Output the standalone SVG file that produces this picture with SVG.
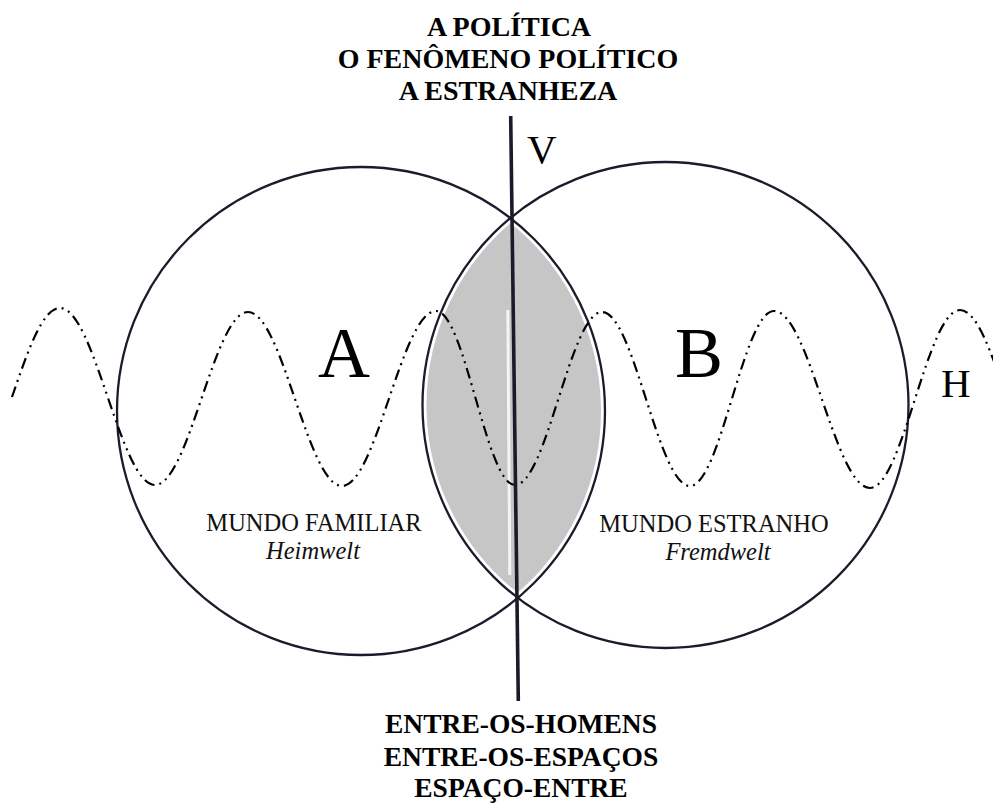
<svg xmlns="http://www.w3.org/2000/svg" width="993" height="805" viewBox="0 0 993 805">
  <defs>
    <style>
      .circ { fill: none; stroke: #1c1b2c; stroke-width: 2.3; }
      .axis { stroke: #1b1a2a; stroke-width: 3.6; stroke-linecap: butt; }
      .wave { fill: none; stroke: #000; stroke-width: 2.2; stroke-dasharray: 11 5 2 5 2 5; }
      .head { font-family: "Liberation Serif", "Times New Roman", serif; font-weight: bold; font-size: 28px; fill: #000; text-anchor: middle; }
      .foot { font-family: "Liberation Serif", "Times New Roman", serif; font-weight: bold; font-size: 27.5px; fill: #000; text-anchor: middle; }
      .big { font-family: "Liberation Serif", "Times New Roman", serif; font-size: 72px; fill: #000; text-anchor: middle; }
      .mid { font-family: "Liberation Serif", "Times New Roman", serif; font-size: 41px; fill: #000; }
      .lab { font-family: "Liberation Serif", "Times New Roman", serif; font-size: 24.5px; fill: #111; text-anchor: middle; }
      .it { font-style: italic; }
    </style>
  </defs>
  <rect width="993" height="805" fill="#ffffff"/>

  <g id="lens">
    <path d="M510.3,218 A243,243 0 0 0 517.8,597.9 A244,244 0 0 0 510.3,218 Z" fill="#c6c6c6"/>
    <path d="M510.3,218 A243,243 0 0 0 517.8,597.9 A244,244 0 0 0 510.3,218 Z" fill="none" stroke="#ffffff" stroke-width="8"/>
    <line x1="507.8" y1="310" x2="509.8" y2="575" stroke="#f4f4f4" stroke-width="3"/>
  </g>

  <g id="circle-a">
    <circle class="circ" cx="361" cy="411" r="244"/>
  </g>
  <g id="circle-b">
    <circle class="circ" cx="665.5" cy="405" r="243"/>
  </g>

  <g id="connectors">
    <path class="wave" d="M12,397 C28,350.3 42.7,308 60,308 C94.5,308 120.5,485 155,485 C188.8,485 214.2,312 248,312 C282.2,312 307.8,486 342,486 C376.2,486 401.8,311 436,311 C464.7,311 486.3,485 515,485 C546.6,485 570.4,312 602,312 C634,312 658,486 690,486 C720.5,486 743.5,311 774,311 C808.9,311 835.1,488 870,488 C902.7,488 927.3,310 960,310 C976.9,310 991.3,352.3 1007,399"/>
    <line class="axis" x1="510.7" y1="116" x2="518.3" y2="701"/>
  </g>

  <g id="title-top">
    <text class="head" x="509" y="36">A POLÍTICA</text>
    <text class="head" x="508" y="68">O FENÔMENO POLÍTICO</text>
    <text class="head" x="508" y="100">A ESTRANHEZA</text>
  </g>

  <g id="title-bottom">
    <text class="foot" x="521" y="733">ENTRE-OS-HOMENS</text>
    <text class="foot" x="521" y="766">ENTRE-OS-ESPAÇOS</text>
    <text class="foot" x="521" y="797">ESPAÇO-ENTRE</text>
  </g>

  <g id="label-v">
    <text class="mid" x="527" y="163">V</text>
  </g>
  <g id="label-h">
    <text class="mid" x="941" y="397">H</text>
  </g>

  <g id="node-a">
    <text class="big" x="344" y="377">A</text>
    <text class="lab" x="314" y="531">MUNDO FAMILIAR</text>
    <text class="lab it" x="313" y="559">Heimwelt</text>
  </g>
  <g id="node-b">
    <text class="big" x="699" y="377">B</text>
    <text class="lab" x="714" y="532">MUNDO ESTRANHO</text>
    <text class="lab it" x="718" y="560">Fremdwelt</text>
  </g>
</svg>
